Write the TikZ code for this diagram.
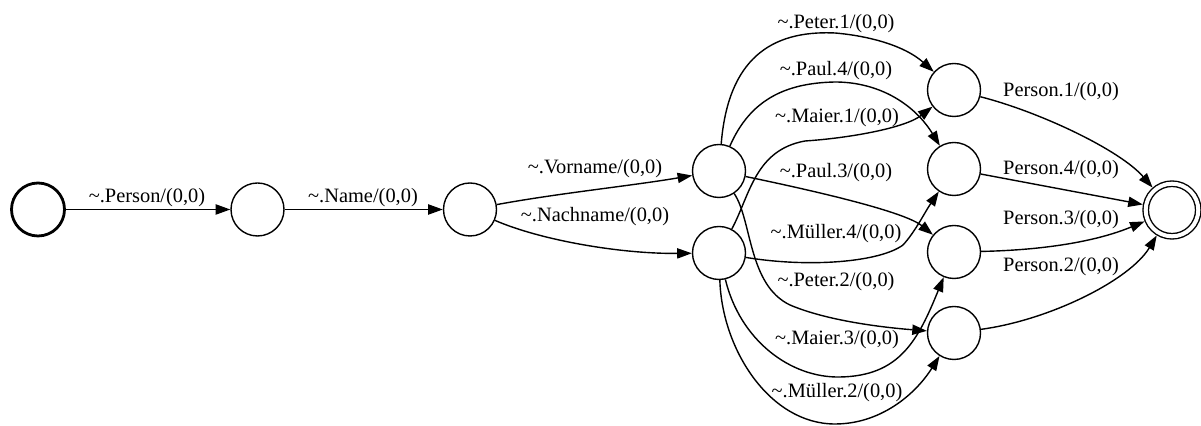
\documentclass[tikz,border=0pt]{standalone}
\usepackage{fontspec}
\setmainfont{Liberation Serif}
\usetikzlibrary{arrows.meta}

\begin{document}
\begin{tikzpicture}
    [x=0.5pt, y=-0.5pt, line width=0.7pt,
     state/.style={circle, draw, minimum size=26.5pt, inner sep=0pt},
     startstate/.style={state, line width=1.4pt},
     finalstate/.style={state, double, double distance=2pt, minimum size=26.3pt, outer sep=1.7pt},
     edgelabel/.style={inner sep=0pt, font=\fontsize{10.2pt}{12pt}\selectfont},
     trans/.style={-{Triangle[length=7.3pt, width=5.1pt]}}]

    \useasboundingbox (0,0) rectangle (1201,426);

    \node[startstate] (s0) at (38,209.5) {};
    \node[state] (s1) at (257.5,209.5) {};
    \node[state] (s2) at (470,209.5) {};
    \node[state] (v) at (719,171) {};
    \node[state] (n) at (719,253) {};
    \node[state] (a) at (954,90) {};
    \node[state] (b) at (954,169) {};
    \node[state] (c) at (954,252) {};
    \node[state] (d) at (954,333) {};
    \node[finalstate] (f) at (1172,210) {};

    \node[edgelabel] (lperson) at (147,198) {\textasciitilde.Person/(0,0)};
    \node[edgelabel] (lname) at (363,198) {\textasciitilde.Name/(0,0)};
    \node[edgelabel] (lvorname) at (595,169) {\textasciitilde.Vorname/(0,0)};
    \node[edgelabel] (lnachname) at (595,217) {\textasciitilde.Nachname/(0,0)};
    \node[edgelabel] (lpeter1) at (836,24) {\textasciitilde.Peter.1/(0,0)};
    \node[edgelabel] (lpaul4) at (836,71) {\textasciitilde.Paul.4/(0,0)};
    \node[edgelabel] (lmaier1) at (837,118) {\textasciitilde.Maier.1/(0,0)};
    \node[edgelabel] (lpaul3) at (836,173) {\textasciitilde.Paul.3/(0,0)};
    \node[edgelabel] (lmueller4) at (836,234) {\textasciitilde.Müller.4/(0,0)};
    \node[edgelabel] (lpeter2) at (836,282) {\textasciitilde.Peter.2/(0,0)};
    \node[edgelabel] (lmaier3) at (837,340) {\textasciitilde.Maier.3/(0,0)};
    \node[edgelabel] (lmueller2) at (837,393) {\textasciitilde.Müller.2/(0,0)};
    \node[edgelabel] (lperson1) at (1061,92) {Person.1/(0,0)};
    \node[edgelabel] (lperson4) at (1061,170) {Person.4/(0,0)};
    \node[edgelabel] (lperson3) at (1061,220) {Person.3/(0,0)};
    \node[edgelabel] (lperson2) at (1061,267) {Person.2/(0,0)};

    \draw[trans] (s0) -- (s1);
    \draw[trans] (s1) -- (s2);
    \draw[trans] (s2) .. controls (560,193) and (630,186) .. (v);
    \draw[trans] (s2) .. controls (540,240) and (620,254) .. (n);

    \draw[trans] (v) .. controls (728,60) and (770,30) .. (835,33) .. controls (870,36) and (905,46) .. (a);
    \draw[trans] (v) .. controls (750,100) and (785,83) .. (835,82) .. controls (880,82) and (915,105) .. (b);
    \draw[trans] (n) .. controls (750,195) and (755,150) .. (805,141) .. controls (850,138) and (905,128) .. (a);
    \draw[trans] (v) .. controls (820,192) and (905,212) .. (c);
    \draw[trans] (n) .. controls (810,268) and (880,262) .. (903,245) .. controls (915,232) and (925,212) .. (b);
    \draw[trans] (v) .. controls (752,220) and (748,285) .. (790,305) .. controls (830,322) and (890,328) .. (d);
    \draw[trans] (n) .. controls (740,340) and (790,378) .. (840,377) .. controls (900,376) and (918,340) .. (c);
    \draw[trans] (n) .. controls (722,350) and (770,424) .. (835,424) .. controls (880,424) and (915,395) .. (d);

    \draw[trans] (a) .. controls (1040,112) and (1120,150) .. (f);
    \draw[trans] (b) -- (f);
    \draw[trans] (c) .. controls (1050,250) and (1100,240) .. (f);
    \draw[trans] (d) .. controls (1050,320) and (1130,280) .. (f);
\end{tikzpicture}
\end{document}
